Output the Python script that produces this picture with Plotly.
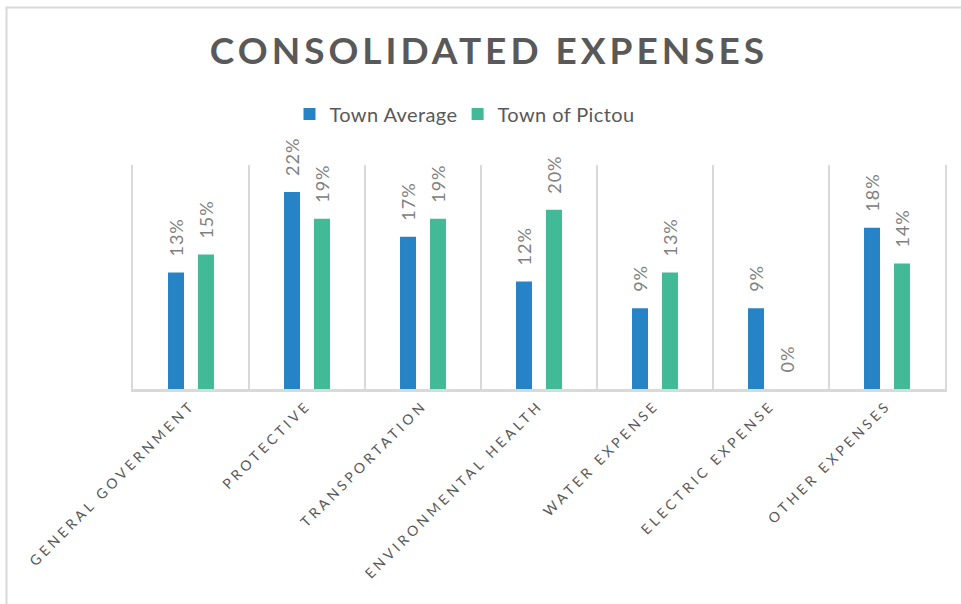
import plotly.graph_objects as go

# Expense categories and shares (fractions of total expenses)
categories = [
    "GENERAL GOVERNMENT",
    "PROTECTIVE",
    "TRANSPORTATION",
    "ENVIRONMENTAL HEALTH",
    "WATER EXPENSE",
    "ELECTRIC EXPENSE",
    "OTHER EXPENSES",
]
town_average = [0.13, 0.22, 0.17, 0.12, 0.09, 0.09, 0.18]
town_of_pictou = [0.15, 0.19, 0.19, 0.20, 0.13, 0.00, 0.14]

series_names = ["Town Average", "Town of Pictou"]
series_colors = ["#2683C6", "#42BA97"]

FONT = "Lato, 'Open Sans', sans-serif"
TEXT_GRAY = "#595959"
LABEL_GRAY = "#808080"
LINE_GRAY = "#D9D9D9"

W, H = 961, 604
ML, MR, MT, MB = 133, 16, 165, 215
PW, PH = W - ML - MR, H - MT - MB


def px_to_paper_x(px):
    return (px - ML) / PW


def px_to_paper_y(py):
    return (H - MB - py) / PH


fig = go.Figure()
for name, vals, color in zip(series_names, [town_average, town_of_pictou], series_colors):
    fig.add_trace(go.Bar(
        x=categories,
        y=vals,
        name=name,
        marker=dict(color=color, line=dict(width=0)),
        hoverinfo="skip",
    ))

# Rotated percentage labels above each bar
annotations = []
for offset, vals in zip([-15, 15], [town_average, town_of_pictou]):
    for cat, v in zip(categories, vals):
        annotations.append(dict(
            x=cat, y=v, xref="x", yref="y",
            text=f"{v:.0%}",
            showarrow=False,
            textangle=-90,
            xanchor="center", yanchor="bottom",
            xshift=offset, yshift=15,
            font=dict(family=FONT, size=18, color=LABEL_GRAY),
        ))

# Outer chart frame (runs off the right and bottom edges of the page)
shapes = [dict(
    type="rect", xref="paper", yref="paper",
    x0=px_to_paper_x(6.5), x1=px_to_paper_x(W + 20),
    y0=px_to_paper_y(H + 20), y1=px_to_paper_y(7.5),
    line=dict(color=LINE_GRAY, width=2), fillcolor="rgba(0,0,0,0)",
    layer="below",
)]

fig.update_layout(
    width=W, height=H,
    margin=dict(l=ML, r=MR, t=MT, b=MB, autoexpand=False),
    paper_bgcolor="white", plot_bgcolor="white",
    barmode="group",
    bargap=0.483,
    bargroupgap=0.467,
    font=dict(family=FONT, color=TEXT_GRAY),
    title=dict(
        text="CONSOLIDATED EXPENSES",
        xref="paper", x=px_to_paper_x(489), xanchor="center",
        yref="container", y=1 - 51 / H, yanchor="middle",
        font=dict(family=FONT, size=37, color=TEXT_GRAY, weight="bold"),
    ),
    legend=dict(
        orientation="h",
        x=px_to_paper_x(462), xanchor="center",
        y=px_to_paper_y(114), yanchor="middle",
        font=dict(family=FONT, size=20, color=TEXT_GRAY),
        itemwidth=30,
        bgcolor="rgba(0,0,0,0)",
    ),
    xaxis=dict(
        type="category",
        tickson="boundaries",
        showgrid=True, gridcolor=LINE_GRAY, gridwidth=1.5,
        showline=True, linecolor=LINE_GRAY, linewidth=2.5,
        ticks="", tickangle=-45,
        tickfont=dict(family=FONT, size=14, color=TEXT_GRAY),
    ),
    yaxis=dict(
        range=[0, 0.25],
        showgrid=False, zeroline=False,
        showticklabels=False, ticks="",
        showline=True, mirror=True, linecolor=LINE_GRAY, linewidth=1.5,
    ),
    annotations=annotations,
    shapes=shapes,
)

# Widen the letter spacing of the title, category labels and value labels
post_script = """
var gd = document.getElementById('{plot_id}');
gd.querySelectorAll('.xtick text').forEach(function(t){ t.setAttribute('letter-spacing', '3.5px'); });
gd.querySelectorAll('.annotation-text').forEach(function(t){ t.setAttribute('letter-spacing', '1px'); });
gd.querySelectorAll('.legendtext').forEach(function(t){ t.setAttribute('letter-spacing', '0.4px'); });
var ttl = gd.querySelector('.gtitle');
if (ttl) { ttl.setAttribute('letter-spacing', '4px'); }
"""

fig.write_html("out.html", post_script=post_script)
